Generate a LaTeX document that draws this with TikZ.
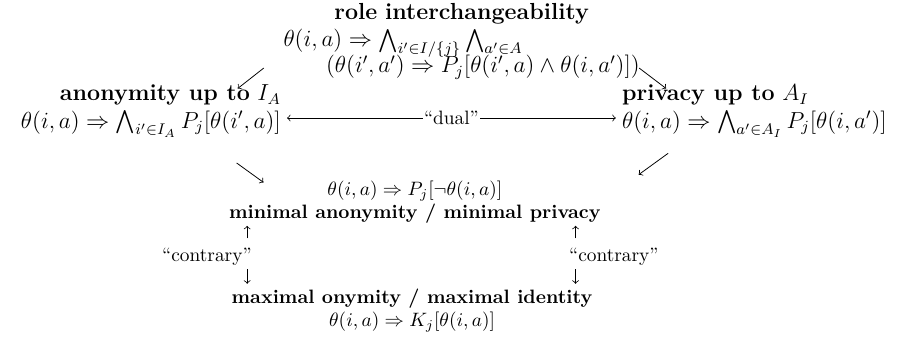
\documentclass[tikz,border=0pt]{standalone}
\usepackage{amsmath,amssymb}
\usepackage{tikz}

\begin{document}
\begin{tikzpicture}[lbl/.style={inner sep=1pt, align=center}]
    \useasboundingbox (0,0) rectangle (16.32,6.19);
    % top
    \node[lbl, font=\large, align=left, text width=184pt, anchor=north] (role) at (8.38, 6.17) {\hfill\textbf{role interchangeability}\hfill\null\\
        $\theta(i,a) \Rightarrow \bigwedge_{i' \in I/\{j\}} \bigwedge_{a' \in A}$\\[-2pt]
        \hfill$(\theta(i',a') \Rightarrow P_j[\theta(i',a) \wedge \theta(i,a')])$};
    % left and right
    \node[lbl, font=\large, align=right, anchor=east] (anon) at (5.14, 4.17) {\textbf{anonymity up to} $I_A$\\
        $\theta(i,a) \Rightarrow \bigwedge_{i' \in I_A} P_j[\theta(i',a)]$};
    \node[lbl, font=\large, align=left, anchor=west] (priv) at (11.25, 4.17) {\textbf{privacy up to} $A_I$\\
        $\theta(i,a) \Rightarrow \bigwedge_{a' \in A_I} P_j[\theta(i,a')]$};
    % bottom
    \node[lbl] (mini) at (7.53, 2.52) {$\theta(i,a) \Rightarrow P_j[\neg\theta(i,a)]$\\
        \textbf{minimal anonymity / minimal privacy}};
    \node[lbl] (maxi) at (7.48, 0.55) {\textbf{maximal onymity / maximal identity}\\
        $\theta(i,a) \Rightarrow K_j[\theta(i,a)]$};
    \node[lbl, anchor=east] (lcon) at (4.61, 1.52) {``contrary''};
    \node[lbl, anchor=west] (rcon) at (10.29, 1.52) {``contrary''};

    % arrows
    \draw[->] ([shift={(-9pt,7pt)}]role.south west) -- ([shift={(-23.5pt,-3pt)}]anon.north east);
    \draw[->] ([shift={(-1.5pt,7pt)}]role.south east) -- ([shift={(24pt,-3pt)}]priv.north west);
    \draw[->] ([shift={(-24pt,-12pt)}]anon.south east) -- ([shift={(19pt,-2pt)}]mini.north west);
    \draw[->] ([shift={(25pt,-7pt)}]priv.south west) -- ([shift={(18.5pt,2pt)}]mini.north east);
    \draw[<->, shorten >=2pt, shorten <=2pt] ([yshift=-3.5pt]anon.east) -- node[fill=white, inner sep=0.5pt] {``dual''} ([yshift=-3.5pt]priv.west);
    \draw[->, shorten >=0pt, shorten <=4pt] ([xshift=-3.5pt]lcon.north east) -- ([xshift=-3.5pt]lcon.north east |- mini.south);
    \draw[->, shorten >=1.5pt, shorten <=0.5pt] ([xshift=-3.5pt]lcon.south east) -- ([xshift=-3.5pt]lcon.south east |- maxi.north);
    \draw[->, shorten >=0pt, shorten <=4pt] ([xshift=4.5pt]rcon.north west) -- ([xshift=4.5pt]rcon.north west |- mini.south);
    \draw[->, shorten >=1.5pt, shorten <=0.5pt] ([xshift=4.5pt]rcon.south west) -- ([xshift=4.5pt]rcon.south west |- maxi.north);
\end{tikzpicture}
\end{document}
